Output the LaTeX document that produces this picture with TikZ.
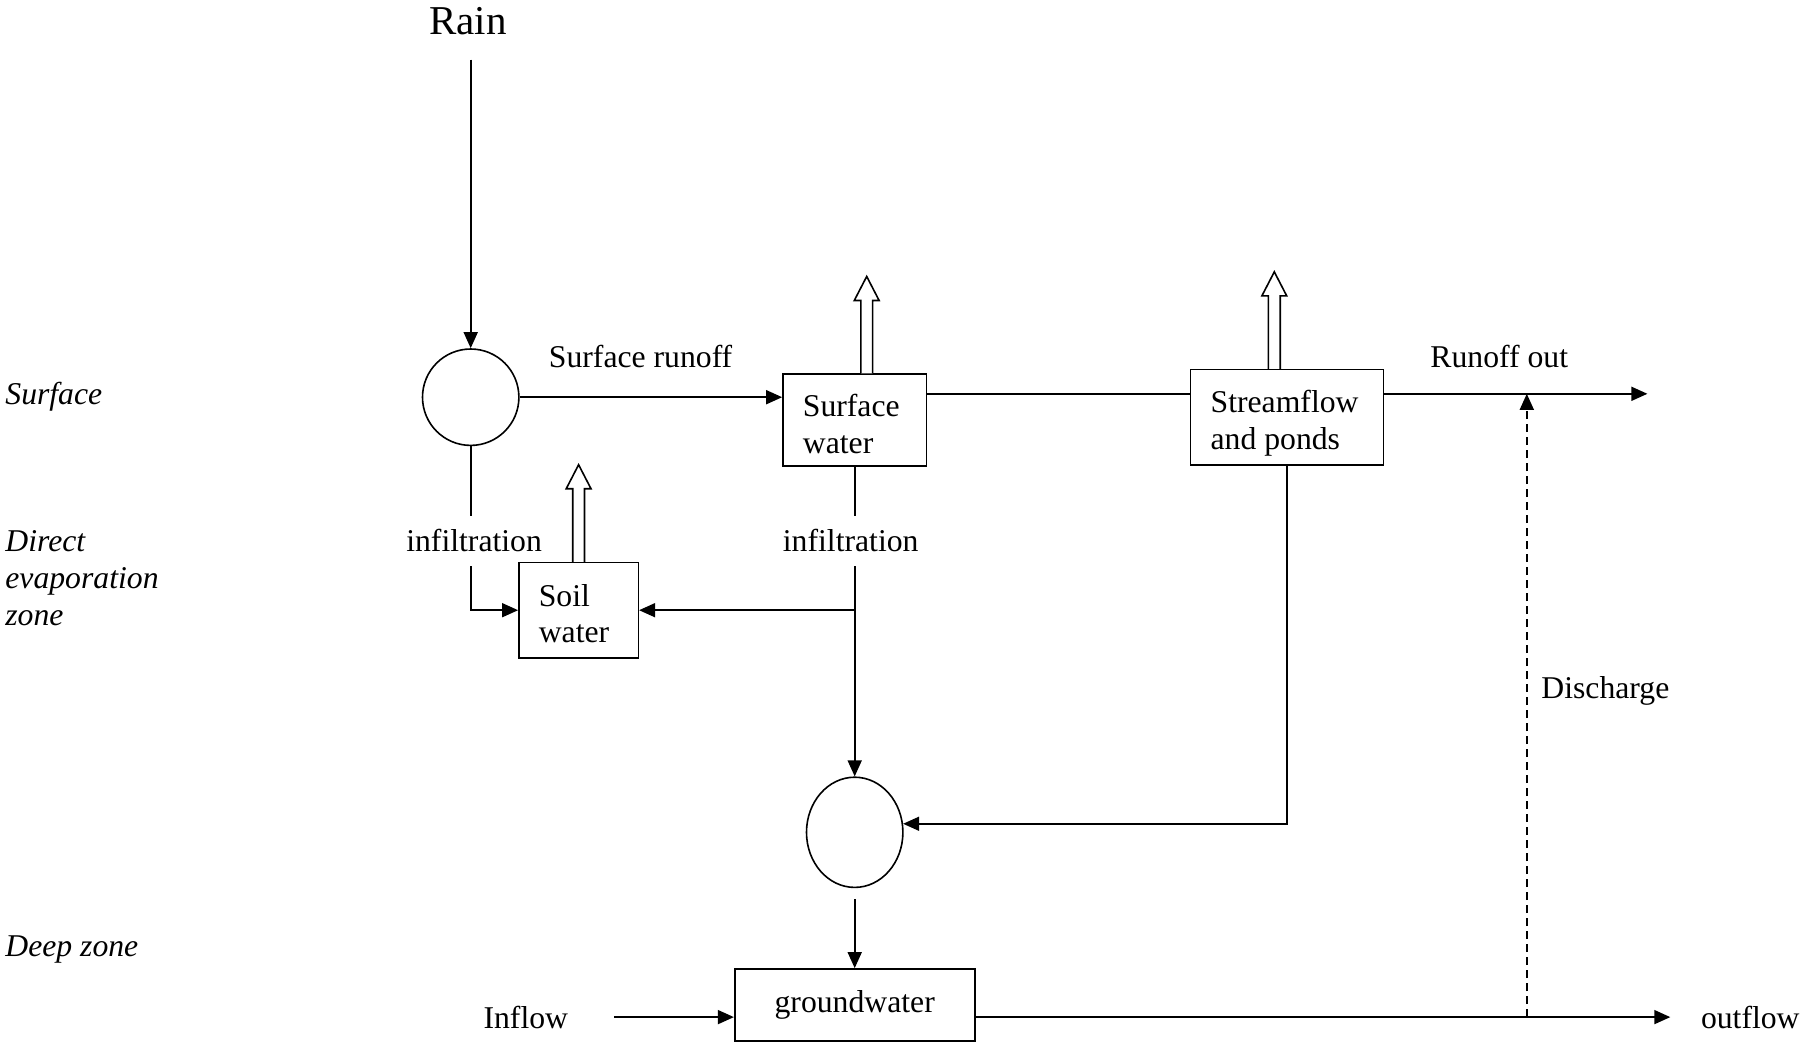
\documentclass[tikz,border=0pt]{standalone}
\usepackage{fontspec}
\setmainfont{Liberation Serif}
\usetikzlibrary{arrows.meta,shapes.geometric,calc}
\newcommand\evapArrow[1]{\draw[hollow] (#1) ++(-5.9,0) -- ++(0,-73) -- ++(-6.5,0) -- ++(12.4,-24) -- ++(12.4,24) -- ++(-6.5,0) -- ++(0,73);}
% box text: dx shift, dy shift, lines
\newcommand\btxt[3]{\kern#1\raisebox{#2}[0pt][0pt]{\begin{tabular}{@{}l@{}}#3\end{tabular}}\kern-#1}
\begin{document}
\begin{tikzpicture}[x=1pt,y=-1pt,
  line width=1.6pt,
  every node/.style={font=\fontsize{31.7}{36.7}\selectfont},
  box/.style={draw, rectangle, inner sep=0pt},
  txt/.style={inner sep=0pt, anchor=base},
  txtw/.style={inner sep=0pt, anchor=base west},
  zone/.style={inner sep=0pt, anchor=base west, font=\fontsize{31.7}{36.7}\selectfont\itshape},
  arr/.style={-{Triangle[length=16pt,width=14pt]}},
  hollow/.style={line width=1.6pt, fill=white, line join=miter},
  junc/.style={draw, ellipse, inner sep=0pt}]
\useasboundingbox (0,0) rectangle (1800,1045);

% labels
\node[txt, font=\fontsize{41}{48}\selectfont] (rain) at (468,34.4) {Rain};
\node[zone] (zsurf) at (4.6,404.1) {Surface};
\node[zone] (zd1) at (4.6,551) {Direct};
\node[zone] (zd2) at (4.6,588.3) {evaporation};
\node[zone] (zd3) at (4.6,625.6) {zone};
\node[zone] (zdeep) at (4.6,956.3) {Deep zone};

% main nodes
\node[junc, minimum width=96.4pt, minimum height=96.4pt] (c1) at (470.7,397.2) {};
\node[box, minimum width=143.5pt, minimum height=91.9pt] (sw) at (854.7,420.2) {\btxt{-3.4pt}{-13.6pt}{Surface\\water}};
\node[box, minimum width=192.9pt, minimum height=95.3pt] (sf) at (1286.9,417.3) {\btxt{-2.3pt}{-12.5pt}{Streamflow\\and ponds}};
\node[box, minimum width=119.4pt, minimum height=95.3pt] (so) at (578.6,610.2) {\btxt{-4.6pt}{-13.1pt}{Soil\\water}};
\node[junc, minimum width=96.4pt, minimum height=110.2pt] (e2) at (854.7,832.3) {};
\node[box, minimum width=240pt, minimum height=72.3pt] (gw) at (854.7,1005.1) {groundwater};

\node[txt] (lsr) at (640.6,367.4) {Surface runoff};
\node[txt] (lro) at (1499.3,367.4) {Runoff out};
\node[txt] (linf1) at (474.1,551) {infiltration};
\node[txt] (linf2) at (850.7,551) {infiltration};
\node[txtw] (ldis) at (1540.6,698) {Discharge};
\node[txt] (lin) at (525.8,1028.6) {Inflow};
\node[txtw] (lout) at (1700.2,1028.6) {outflow};

% coordinates for free ends
\coordinate (rainstart) at (470.7,59.7);
\coordinate (ly) at (0,393.8);
\coordinate (rend) at (1647.4,393.8);
\coordinate (inst) at (614.2,1017.1);
\coordinate (oend) at (1670.3,1017.1);
\coordinate (dbase) at (1526.8,1017.1);

% connectors
\draw[arr] (rainstart) -- (c1.north);
\draw[arr] (c1.east) -- (c1.east -| sw.west);
\draw (sw.east |- ly) -- (sf.west |- ly);
\draw[arr] (sf.east |- ly) -- (rend);

\draw (c1.south) -- (c1.south |- 0,515.5);
\draw[arr] (c1.south |- 0,566) |- (so.west);

\draw (sw.south) -- (sw.south |- 0,515.5);
\draw[arr] (sw.south |- 0,566) -- (e2.north);
\coordinate (j) at (sw.south |- so.east);
\draw[arr] (j) -- (so.east);

\draw[arr] (sf.south) |- (e2.10);
\draw[arr, shorten <=11pt] (e2.south) -- (gw.north);

\draw[arr] (inst) -- (inst -| gw.west);
\draw[arr] (gw.east |- oend) -- (oend);
\draw[arr, dash pattern=on 8pt off 5pt] (dbase) -- (dbase |- ly);

% evaporation arrows
\evapArrow{$(sw.north)+(12,0)$}
\evapArrow{$(sf.north)+(-12.6,0)$}
\evapArrow{so.north}
\end{tikzpicture}
\end{document}
